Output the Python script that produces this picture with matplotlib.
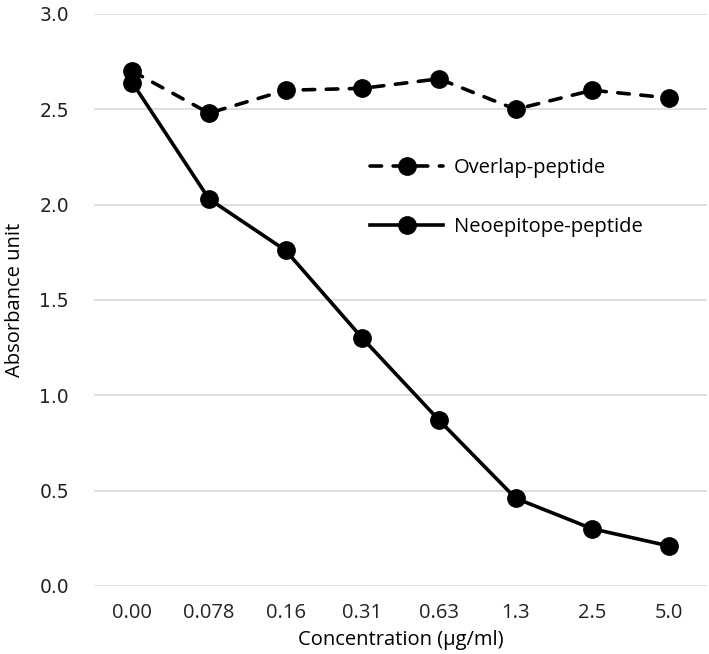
import matplotlib
matplotlib.use("Agg")
import matplotlib.pyplot as plt

conc = ["0.00", "0.078", "0.16", "0.31", "0.63", "1.3", "2.5", "5.0"]
overlap = [2.70, 2.48, 2.60, 2.61, 2.66, 2.50, 2.60, 2.56]
neo = [2.64, 2.03, 1.76, 1.30, 0.87, 0.46, 0.30, 0.21]

fig = plt.figure(figsize=(7.09, 6.54), dpi=100)
ax = fig.add_axes([0.1326, 0.104, 0.865, 0.8746])

x = range(len(conc))
ax.plot(x, overlap, color="black", lw=2.6, ls=(0, (3.2, 3.2)), dash_capstyle="round",
        marker="o", ms=12.5, label="Overlap-peptide")
ax.plot(x, neo, color="black", lw=2.6, marker="o", ms=12.5, label="Neoepitope-peptide")

ax.set_xlim(-0.5, len(conc) - 0.5)
ax.set_ylim(0, 3.0)
ax.set_yticks([0, 0.5, 1.0, 1.5, 2.0, 2.5, 3.0])
ax.set_yticklabels(["%.1f" % v for v in ax.get_yticks()], fontsize=13.5,
                   family="DejaVu Sans", color="#222222")
ax.set_xticks(list(x))
ax.set_xticklabels(conc, fontsize=14.5, family="Open Sans", color="#222222")
ax.grid(axis="y", color="#d9d9d9", lw=1.2)
ax.set_axisbelow(True)
for s in ax.spines.values():
    s.set_visible(False)
ax.tick_params(axis="x", length=0, pad=12)
ax.tick_params(axis="y", length=0, pad=18)

ax.set_xlabel("Concentration (µg/ml)", fontsize=14.5, family="Open Sans", labelpad=5)
ax.set_ylabel("Absorbance unit", fontsize=14.5, family="Open Sans", labelpad=10)

leg = ax.legend(loc="center left", bbox_to_anchor=(0.421, 0.679), frameon=False,
                prop={"family": "Open Sans", "size": 14.5}, handlelength=3.6,
                labelspacing=1.9, handletextpad=0.55)

fig.savefig("out.png", dpi=100)
